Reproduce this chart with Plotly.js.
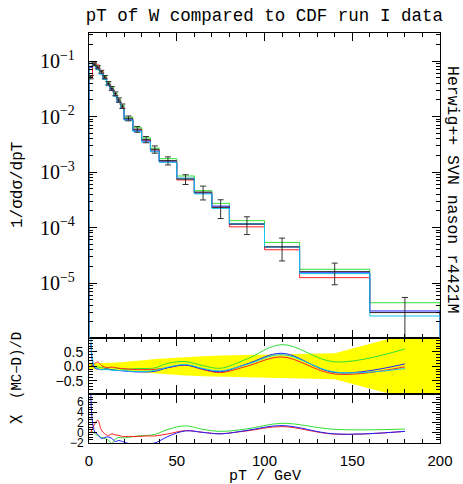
<!DOCTYPE html>
<html><head><meta charset="utf-8">
<script src="https://cdn.plot.ly/plotly-3.0.1.min.js"></script>
<style>html,body{margin:0;padding:0;background:#fff;}#plot{width:463px;height:484px;}</style>
</head><body><div id="plot"></div>
<script>
// ---- data ----
const binEdges = [0,2,4,6,8,10,12,14,16,18,20,25,30,35,40,50,60,70,80,100,120,160,200];
const dataVals = [0.0513,0.0873,0.0770,0.0643,0.0513,0.0398,0.0321,0.0257,0.0199,0.0154,0.00929,0.00592,0.00387,0.00257,0.00161,7.45e-4,4.36e-4,2.31e-4,1.155e-4,4.48e-5,1.61e-5,2.94e-6];
const dataErrs = [0.00357,0.00524,0.0046,0.00386,0.00357,0.00283,0.00255,0.00206,0.0018,0.00141,0.00093,0.00071,0.0005,0.000384,0.000267,1.49e-4,1.22e-4,8.57e-5,4.08e-5,1.98e-5,6.78e-6,2.56e-6];
const mcGreen = [0.0539,0.0899,0.0783,0.0655,0.0526,0.0411,0.0335,0.0263,0.0205,0.0159,0.00974,0.00629,0.00412,0.0027,0.00174,8.48e-4,4.62e-4,2.73e-4,1.33e-4,5.39e-5,1.77e-5,4.42e-6];
const mcRed   = [0.0513,0.0924,0.0847,0.0655,0.05,0.0385,0.0308,0.0244,0.019,0.0145,0.009,0.00579,0.00373,0.00251,0.00157,7.2e-4,4.24e-4,2.33e-4,1.03e-4,3.98e-5,1.25e-5,2.94e-6];
const mcBlue  = [0.0769,0.0847,0.0719,0.0591,0.0474,0.0372,0.0302,0.0238,0.0183,0.0141,0.00875,0.00553,0.00361,0.00238,0.00152,7.71e-4,4.18e-4,2.43e-4,1.155e-4,4.49e-5,1.53e-5,3.14e-6];
const mcCyan  = [0.0967,0.0847,0.0706,0.0578,0.0462,0.0359,0.0295,0.0231,0.018,0.0139,0.00861,0.0054,0.00347,0.00232,0.0015,7.71e-4,4.04e-4,2.21e-4,1.18e-4,4.49e-5,1.48e-5,2.55e-6];
// (MC-D)/D ratio curves
const ratioGreen = [0.05,0.0,-0.03,-0.05,-0.07,-0.1,-0.12,-0.1,-0.08,-0.1,-0.1,-0.08,-0.08,-0.06,0.1,0.16,0.02,-0.07,0.25,0.75,0.15,0.6];
const ratioRed   = [0.0,0.08,0.15,0.03,-0.03,-0.05,-0.03,-0.05,-0.07,-0.08,-0.1,-0.12,-0.12,-0.11,-0.05,0.04,-0.12,-0.22,0.0,0.32,-0.27,-0.02];
const ratioBlue  = [0.8,-0.05,-0.1,-0.12,-0.1,-0.1,-0.12,-0.15,-0.15,-0.16,-0.18,-0.2,-0.2,-0.18,-0.05,0.04,-0.1,-0.19,0.08,0.45,-0.22,0.08];
const ratioCyan  = [1.2,0.0,-0.08,-0.12,-0.12,-0.12,-0.14,-0.14,-0.15,-0.15,-0.17,-0.18,-0.18,-0.15,-0.03,0.06,-0.08,-0.16,0.06,0.4,-0.2,-0.08];
// data uncertainty band (relative) in ratio panel
const bandX    = [0,1,3,5,7,9,11,13,15,17,19,22.5,27.5,32.5,37.5,45,55,65,75,90,110,140,180,200];
const bandHalf = [0.1,0.1,0.1,0.1,0.11,0.12,0.12,0.12,0.13,0.13,0.14,0.16,0.2,0.22,0.25,0.28,0.32,0.35,0.37,0.39,0.42,0.45,1.1,1.1];
// chi curves
const chiGreen = [0.5,-0.2,-0.6,-1.0,-1.2,-1.5,-2.2,-1.3,-1.0,-1.1,-1.0,-0.7,-0.6,-0.4,0.6,1.3,0.6,0.2,0.7,1.8,0.6,0.66];
const chiRed   = [0.0,1.5,2.4,0.5,-0.3,-0.6,-0.3,-0.5,-0.6,-0.8,-0.8,-0.8,-0.7,-0.7,-0.3,0.35,0.0,-0.25,0.3,1.15,-0.35,0.2];
const chiBlue  = [8.0,0.3,-0.4,-1.2,-1.0,-0.9,-1.2,-1.8,-1.6,-1.8,-2.2,-2.3,-2.2,-2.1,-0.8,0.3,0.0,-0.3,0.4,1.35,-0.3,0.2];

const titleText = 'pT of W compared to CDF run I data';
const sideText = 'Herwig++ SVN nason r4421M';

// ---- derived positions ----
const nb = binEdges.length - 1;
const centers = [], halfW = [];
for (let i = 0; i < nb; i++) { centers.push((binEdges[i] + binEdges[i+1]) / 2); halfW.push((binEdges[i+1] - binEdges[i]) / 2); }
const stepX = [binEdges[0]].concat(binEdges.slice(0, nb)).concat([binEdges[nb]]);
function stepY(v) { return [1e-9].concat(v).concat([1e-9]); }

const COL = {green:'#33e033', red:'#ff2020', blue:'#2020ff', cyan:'#10c8e8'};
const traces = [];
function hist(v, c) { traces.push({x: stepX, y: stepY(v), xaxis:'x3', yaxis:'y3', mode:'lines', line:{shape:'hv', color:c, width:1}, hoverinfo:'skip'}); }
hist(mcGreen, COL.green); hist(mcRed, COL.red); hist(mcBlue, COL.blue); hist(mcCyan, COL.cyan);
traces.push({x: centers, y: dataVals, xaxis:'x3', yaxis:'y3', mode:'markers', marker:{size:1, color:'#000'},
  error_y:{type:'data', array:dataErrs, color:'#333', thickness:1, width:3},
  error_x:{type:'data', array:halfW, color:'#333', thickness:1, width:0}});

// ratio band
traces.push({x: bandX.concat(bandX.slice().reverse()), y: bandHalf.concat(bandHalf.slice().reverse().map(v => -v)),
  xaxis:'x2', yaxis:'y2', mode:'lines', fill:'toself', fillcolor:'#ffff00', line:{width:0, color:'#ffff00'}, hoverinfo:'skip'});
function rline(v, c, ax, ay) { traces.push({x: centers, y: v, xaxis:ax, yaxis:ay, mode:'lines', line:{shape:'spline', smoothing:1, color:c, width:1}, hoverinfo:'skip'}); }
rline(ratioGreen, COL.green, 'x2', 'y2'); rline(ratioRed, COL.red, 'x2', 'y2'); rline(ratioBlue, COL.blue, 'x2', 'y2'); rline(ratioCyan, COL.cyan, 'x2', 'y2');
rline(chiGreen, COL.green, 'x', 'y'); rline(chiRed, COL.red, 'x', 'y'); rline(chiBlue, COL.blue, 'x', 'y');

const sans = 'Liberation Sans, Arial, sans-serif';
const mono = 'Liberation Mono, DejaVu Sans Mono, monospace';
const serif = 'Liberation Serif, DejaVu Serif, serif';
const xbase = {range:[0,200], ticks:'inside', ticklen:8, tickwidth:1, tickcolor:'#000', dtick:50, tick0:0,
  minor:{dtick:10, ticks:'inside', ticklen:4, tickcolor:'#000', showgrid:false},
  showline:true, linecolor:'#000', linewidth:1, mirror:'ticks', showgrid:false, zeroline:false, fixedrange:true};
const ybase = {ticks:'inside', ticklen:8, tickwidth:1, tickcolor:'#000', showline:true, linecolor:'#000', linewidth:1,
  mirror:'ticks', showgrid:false, zeroline:false, fixedrange:true};

const layout = {
  width:463, height:484, margin:{l:89, r:23, t:33, b:41}, paper_bgcolor:'#fff', plot_bgcolor:'#fff', showlegend:false,
  title:{text:titleText, font:{family:mono, size:17.5, color:'#000'}, xref:'container', x:0.571, xanchor:'center', yref:'container', y:1-15/484, yanchor:'middle'},
  xaxis: Object.assign({}, xbase, {anchor:'y', showticklabels:true, tickfont:{family:sans, size:15, color:'#000'}, ticklabelstandoff:4}),
  xaxis2: Object.assign({}, xbase, {anchor:'y2', showticklabels:false}),
  xaxis3: Object.assign({}, xbase, {anchor:'y3', showticklabels:false}),
  yaxis: Object.assign({}, ybase, {domain:[0, 0.117], range:[-2.1, 7.4], tickvals:[-2,0,2,4,6], ticktext:['\u22122','0','2','4','6'],
    minor:{dtick:0.5, ticks:'inside', ticklen:4, tickcolor:'#000'}, tickfont:{family:sans, size:12, color:'#000'}, ticklabelstandoff:2}),
  yaxis2: Object.assign({}, ybase, {domain:[0.122, 0.2561], range:[-0.93, 0.98], tickvals:[-0.5,0,0.5], ticktext:['\u22120.5','0.0','0.5'],
    minor:{dtick:0.1, ticks:'inside', ticklen:4, tickcolor:'#000'}, tickfont:{family:sans, size:14, color:'#000'}, ticklabelstandoff:2}),
  yaxis3: Object.assign({}, ybase, {domain:[0.2561, 1], type:'log', range:[-5.99, -0.495], dtick:1, exponentformat:'power',
    minor:{dtick:'D1', ticks:'inside', ticklen:4, tickcolor:'#000'}, tickfont:{family:serif, size:16, color:'#000'}, ticklabelstandoff:10}),
  annotations:[
    {text:'pT / GeV', xref:'paper', yref:'paper', x:0.5, y:(443-476)/410, xanchor:'center', yanchor:'middle', showarrow:false, font:{family:mono, size:15, color:'#000'}},
    {text:'1/\u03c3d\u03c3/dpT', xref:'paper', yref:'paper', x:(18-89)/351, y:(443-185)/410, xanchor:'center', yanchor:'middle', textangle:-90, showarrow:false, font:{family:mono, size:16, color:'#000'}},
    {text:'(MC\u2212D)/D', xref:'paper', yref:'paper', x:(17-89)/351, y:(443-366)/410, xanchor:'center', yanchor:'middle', textangle:-90, showarrow:false, font:{family:mono, size:14, color:'#000'}},
    {text:'\u03c7', xref:'paper', yref:'paper', x:(15-89)/351, y:(443-419)/410, xanchor:'center', yanchor:'middle', textangle:-90, showarrow:false, font:{family:mono, size:16, color:'#000'}},
    {text:sideText, xref:'paper', yref:'paper', x:(453-89)/351, y:(443-190)/410, xanchor:'center', yanchor:'middle', textangle:90, showarrow:false, font:{family:mono, size:16.5, color:'#000'}}
  ]
};
Plotly.newPlot('plot', traces, layout, {staticPlot:true, displayModeBar:false});
</script></body></html>
